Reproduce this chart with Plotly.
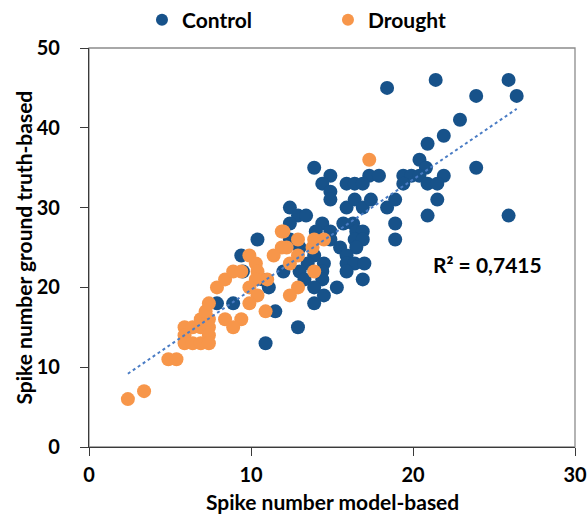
import plotly.graph_objects as go
import numpy as np

# Control series (model-based x, ground-truth y)
control_x = [21.4, 25.9, 18.4, 23.9, 26.4, 22.9, 21.9, 20.9, 20.4, 13.9, 20.8, 23.9,
             14.9, 17.3, 17.9, 19.4, 19.9, 20.4, 21.9,
             14.4, 15.9, 16.4, 16.9, 19.4, 20.9, 21.5,
             14.9, 14.9, 15.9, 16.4, 16.9, 17.4, 18.4, 18.9, 21.5, 12.4,
             12.9, 13.4, 20.9, 25.9, 12.4, 14.4, 15.7, 16.3, 18.9,
             14.0, 14.9, 16.5, 16.9, 12.4, 14.9, 16.4, 16.9, 18.9, 10.4,
             13.0, 15.5, 16.5, 13.9, 15.9, 9.4,
             13.5, 14.5, 15.9, 16.4, 17.0, 12.0, 13.0, 14.4, 15.9, 9.5,
             13.3, 14.4, 16.9, 10.7, 11.1, 13.9, 15.3, 14.5,
             7.9, 8.9, 13.9, 11.5, 12.9, 10.9]
control_y = [46, 46, 45, 44, 44, 41, 39, 38, 36, 35, 35, 35,
             34, 34, 34, 34, 34, 34, 34,
             33, 33, 33, 33, 33, 33, 33,
             32, 31, 30, 31, 30, 31, 30, 31, 31, 30,
             29, 29, 29, 29, 28, 28, 28, 28, 28,
             27, 27, 27, 27, 26, 26, 26, 26, 26, 26,
             25, 25, 25, 24, 24, 24,
             23, 23, 23, 23, 23, 22, 22, 22, 22, 22,
             21, 21, 21, 21, 20, 20, 20, 19,
             18, 18, 18, 17, 15, 13]

# Drought series
drought_x = [17.3, 2.4, 3.4, 4.9, 5.4,
             5.9, 6.4, 6.9, 7.4, 5.9, 7.4, 5.9, 6.4, 6.9, 7.4,
             6.9, 7.4, 7.2, 7.4, 7.9, 8.4, 8.4, 9.4, 8.9,
             8.9, 9.4, 9.9, 10.3, 10.4, 10.3, 9.9, 10.4, 9.9, 11.0, 10.9,
             11.9, 12.0, 12.9, 13.9, 14.5, 13.8, 12.2, 11.9, 11.4, 12.9, 12.4,
             13.9, 12.9, 12.4]
drought_y = [36, 6, 7, 11, 11,
             15, 15, 15, 15, 14, 14, 13, 13, 13, 13,
             16, 16, 17, 18, 20, 21, 16, 16, 15,
             22, 22, 24, 23, 22, 21, 20, 19, 18, 21, 17,
             27, 27, 26, 26, 26, 25, 25, 25, 24, 24, 23,
             22, 20, 19]

r2_label = "R² = 0,7415"
x_title = "Spike number model-based"
y_title = "Spike number ground truth-based"
x_ticks = [0, 10, 20, 30]
y_ticks = [0, 10, 20, 30, 40, 50]

all_x = np.array(control_x + drought_x)
all_y = np.array(control_y + drought_y)
slope, intercept = np.polyfit(all_x, all_y, 1)
tx = np.array([all_x.min(), all_x.max()])
ty = slope * tx + intercept

FONT = "Lato"
BLUE = "#17528A"
ORANGE = "#F7964A"
AX = "#3A3A3A"

fig = go.Figure()
fig.add_trace(go.Scatter(x=control_x, y=control_y, mode="markers", name="Control",
                         marker=dict(color=BLUE, size=14, line=dict(width=0))))
fig.add_trace(go.Scatter(x=drought_x, y=drought_y, mode="markers", name="Drought",
                         marker=dict(color=ORANGE, size=14, line=dict(width=0))))
fig.add_trace(go.Scatter(x=tx, y=ty, mode="lines", showlegend=False,
                         line=dict(color="#4A7CC4", width=2, dash="dot")))

fig.add_annotation(x=24.6, y=22.9, text=f"<b>{r2_label}</b>", showarrow=False,
                   font=dict(family=FONT, size=21, color="black"))
fig.add_annotation(x=0.5, y=0, xref="paper", yref="paper", yshift=-54,
                   text=f"<b>{x_title}</b>", showarrow=False, yanchor="middle",
                   font=dict(family=FONT, size=21, color="black"))
fig.add_annotation(x=0, y=0.5, xref="paper", yref="paper", xshift=-66,
                   text=f"<b>{y_title}</b>", showarrow=False, textangle=-90,
                   xanchor="center", yanchor="middle",
                   font=dict(family=FONT, size=21, color="black"))

# light grey frame (top/right), axes drawn on top for left/bottom
fig.add_shape(type="rect", xref="paper", yref="paper", x0=0, y0=0, x1=1, y1=1,
              line=dict(color="#8C8C8C", width=1.3), layer="below")

fig.update_layout(
    width=587, height=517,
    margin=dict(l=89, r=12, t=48, b=70, autoexpand=False),
    plot_bgcolor="white", paper_bgcolor="white",
    font=dict(family=FONT, size=18, color="black"),
    legend=dict(orientation="h", x=0.109, xanchor="left", y=1.07, yanchor="middle",
                font=dict(family=FONT, size=21, color="black", weight="bold"),
                entrywidth=141, itemsizing="constant", bgcolor="rgba(0,0,0,0)"),
    showlegend=True,
)
fig.update_xaxes(range=[0, 30], tickvals=x_ticks, ticks="outside", ticklen=8,
                 tickcolor=AX, showline=True, linecolor=AX, linewidth=1.3,
                 mirror=False, showgrid=False, zeroline=False, automargin=False,
                 ticklabelstandoff=2,
                 tickfont=dict(family=FONT, size=20, weight="bold"))
fig.update_yaxes(range=[0, 50], tickvals=y_ticks, ticks="outside", ticklen=8,
                 tickcolor=AX, showline=True, linecolor=AX, linewidth=1.3,
                 mirror=False, showgrid=False, zeroline=False, automargin=False,
                 ticklabelstandoff=16,
                 tickfont=dict(family=FONT, size=20, weight="bold"))

fig.write_html("out.html")
